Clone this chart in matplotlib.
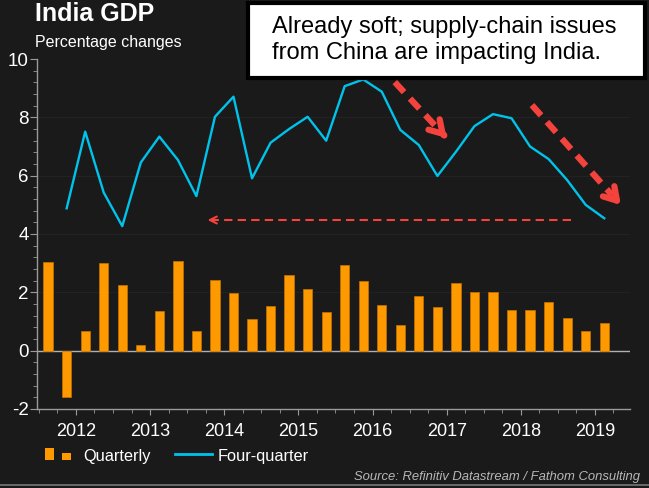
import matplotlib
matplotlib.use("Agg")
import matplotlib.pyplot as plt
import numpy as np
from matplotlib.lines import Line2D
from matplotlib.patches import Rectangle
from matplotlib.ticker import MultipleLocator, FixedLocator

plt.rcParams["font.family"] = ["Liberation Sans", "DejaVu Sans"]
plt.rcParams["axes.unicode_minus"] = False

# quarterly growth, 2012Q1 .. 2019Q3
quarterly = [3.03, -1.58, 0.67, 3.0, 2.24, 0.2, 1.37, 3.07, 0.67, 2.42, 1.99,
             1.09, 1.53, 2.6, 2.1, 1.33, 2.94, 2.4, 1.57, 0.88, 1.89, 1.49,
             2.31, 2.02, 2.0, 1.4, 1.4, 1.66, 1.13, 0.69, 0.95]
# four-quarter growth, 2012Q2 .. 2019Q3
four_quarter = [4.88, 7.51, 5.42, 4.27, 6.45, 7.34, 6.54, 5.3, 8.02, 8.71,
                5.91, 7.13, 7.6, 8.02, 7.2, 9.07, 9.3, 8.88, 7.57, 7.05,
                5.99, 6.82, 7.7, 8.11, 7.97, 7.0, 6.57, 5.85, 5.0, 4.54]
years = ["2012", "2013", "2014", "2015", "2016", "2017", "2018", "2019"]

BG = "#1a1a1a"
ORANGE = "#ff9900"
CYAN = "#00c3ec"
RED = "#f4423c"
GREY = "#9a9a9a"

W, H = 649, 488
fig = plt.figure(figsize=(W / 100, H / 100), dpi=100, facecolor=BG)
ax = fig.add_axes([0.057, 0.162, 0.914, 0.717], facecolor=BG)


def px(x, y):
    # pixel position -> figure fraction
    return x / W, 1 - y / H


xq = np.arange(len(quarterly))
xl = np.arange(1, len(quarterly))

ax.bar(xq, quarterly, width=0.5, color=ORANGE, edgecolor="#c87400",
       linewidth=0.5, zorder=3)
ax.plot(xl, four_quarter, color=CYAN, lw=1.7, zorder=4)
ax.axhline(0, color="#b0b0b0", lw=1.0, zorder=2)

for v in [2, 4, 6, 8]:
    ax.axhline(v, color="#242424", lw=0.6, zorder=1)

ax.set_xlim(-0.6, 31.4)
ax.set_ylim(-2, 10)

# axes styling
for s in ["top", "right"]:
    ax.spines[s].set_visible(False)
for s in ["left", "bottom"]:
    ax.spines[s].set_color(GREY)
    ax.spines[s].set_linewidth(1.0)

ax.yaxis.set_major_locator(MultipleLocator(2))
ax.yaxis.set_minor_locator(MultipleLocator(0.4))
ax.tick_params(axis="y", which="major", length=5, color=GREY, labelsize=13.5,
               labelcolor="white", pad=1)
ax.tick_params(axis="y", which="minor", length=3, color=GREY)

ax.xaxis.set_major_locator(FixedLocator([1.5 + 4 * i for i in range(len(years))]))
ax.set_xticklabels(years)
ax.xaxis.set_minor_locator(FixedLocator(np.arange(-0.5, 31.0, 1.0)))
ax.tick_params(axis="x", which="major", length=4, color=GREY, labelsize=13,
               labelcolor="white", pad=6)
ax.tick_params(axis="x", which="minor", length=3, color=GREY)

# red annotation arrows
ax.plot([28.2, 8.7], [4.48, 4.48], color=RED, lw=1.5, ls=(0, (4, 2.5)), zorder=5)
ax.annotate("", xy=(8.45, 4.48), xytext=(9.2, 4.48),
            arrowprops=dict(arrowstyle="->,head_length=0.5,head_width=0.25",
                            color=RED, lw=1.5), zorder=5)

for (x0, y0), (x1, y1) in [((18.7, 9.21), (21.6, 7.22)),
                           ((26.1, 8.42), (31.0, 4.92))]:
    fx = x0 + (x1 - x0) * 0.88
    fy = y0 + (y1 - y0) * 0.88
    ax.plot([x0, fx], [y0, fy], color=RED, lw=4.5,
            ls=(0, (2.2, 1.4)), solid_capstyle="butt", zorder=5)
    ax.annotate("", xy=(x1, y1), xytext=(fx, fy),
                arrowprops=dict(arrowstyle="->,head_length=0.9,head_width=0.55",
                                color=RED, lw=4.5), zorder=5)

# legend, drawn by hand
x0, y0 = px(45, 460)
fig.add_artist(Rectangle((x0, y0), 9 / W, 12 / H, transform=fig.transFigure,
                         facecolor=ORANGE, edgecolor="none"))
x0, y0 = px(62, 460)
fig.add_artist(Rectangle((x0, y0), 9 / W, 7 / H, transform=fig.transFigure,
                         facecolor=ORANGE, edgecolor="none"))
fig.text(*px(83, 456), "Quarterly", color="white", fontsize=11.8, va="center")
xa, ya = px(175, 454)
xb, _ = px(212, 454)
fig.add_artist(Line2D([xa, xb], [ya, ya], color=CYAN, lw=2,
                      transform=fig.transFigure))
fig.text(*px(218, 456), "Four-quarter", color="white", fontsize=11.8,
         va="center")

# titles
fig.text(*px(35, 14), "India GDP", color="white", fontsize=18,
         fontweight="bold", va="center")
fig.text(*px(35, 43), "Percentage changes", color="white", fontsize=11.5,
         va="center")

# callout box
bx, by = px(248, 78)
fig.add_artist(Rectangle((bx, by), (645 - 248) / W, 75 / H,
                         transform=fig.transFigure, facecolor="white",
                         edgecolor="black", linewidth=3, zorder=10))
fig.text(*px(272, 40), "Already soft; supply-chain issues\nfrom China are impacting India.",
         color="black", fontsize=17, va="center", ha="left", linespacing=1.25,
         zorder=11)

fig.text(*px(640, 477), "Source: Refinitiv Datastream / Fathom Consulting",
         color="#b8b8b8", fontsize=9.4, style="italic", ha="right", va="center")
fig.add_artist(Line2D([0, 1], [1 - 484.5 / H] * 2, color="#777777", lw=1.2,
                      transform=fig.transFigure))

fig.savefig("out.png", dpi=100, facecolor=BG)
